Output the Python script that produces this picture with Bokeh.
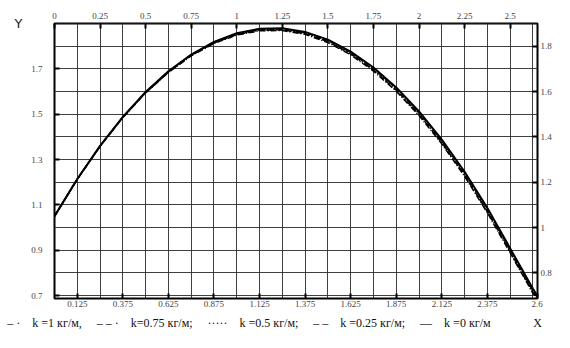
from bokeh.plotting import figure
from bokeh.models import (Range1d, LinearAxis, FixedTicker, CustomJSTickFormatter)
from bokeh.embed import file_html
from bokeh.resources import INLINE

# ---- data ----
x = [0, 0.125, 0.25, 0.375, 0.5, 0.625, 0.75, 0.875, 1.0, 1.125, 1.25, 1.375,
     1.5, 1.625, 1.75, 1.875, 2.0, 2.125, 2.25, 2.375, 2.5, 2.625, 2.648]
y_k1 = [1.05, 1.213, 1.358, 1.485, 1.594, 1.684, 1.757, 1.812, 1.849, 1.868, 1.869, 1.852,
        1.816, 1.762, 1.690, 1.601, 1.494, 1.369, 1.226, 1.065, 0.888, 0.71, 0.69]
y_k075 = [1.05, 1.213, 1.359, 1.486, 1.595, 1.685, 1.759, 1.814, 1.851, 1.870, 1.872, 1.855,
          1.820, 1.766, 1.695, 1.606, 1.499, 1.374, 1.231, 1.070, 0.893, 0.714, 0.692]
y_k05 = [1.05, 1.214, 1.359, 1.487, 1.596, 1.687, 1.760, 1.816, 1.853, 1.872, 1.874, 1.858,
         1.823, 1.769, 1.699, 1.610, 1.503, 1.379, 1.236, 1.076, 0.898, 0.718, 0.693]
y_k025 = [1.05, 1.214, 1.360, 1.487, 1.597, 1.688, 1.762, 1.817, 1.855, 1.875, 1.877, 1.860,
          1.826, 1.773, 1.702, 1.614, 1.508, 1.383, 1.241, 1.081, 0.903, 0.722, 0.694]
y_k0 = [1.05, 1.214, 1.360, 1.488, 1.598, 1.689, 1.763, 1.819, 1.857, 1.877, 1.879, 1.863,
        1.829, 1.776, 1.706, 1.618, 1.512, 1.388, 1.246, 1.086, 0.908, 0.73, 0.70]

series_marks = ["– ·", "– – ·", "·····", "– –", "––"]
series_labels = ["k =1 кг/м,", "k=0.75 кг/м;", "k =0.5 кг/м;", "k =0.25 кг/м;", "k =0 кг/м"]
top_ticks = [0, 0.25, 0.5, 0.75, 1, 1.25, 1.5, 1.75, 2, 2.25, 2.5]
bottom_ticks = [0.125, 0.375, 0.625, 0.875, 1.125, 1.375, 1.625, 1.875, 2.125, 2.375, 2.648]
left_ticks = [0.7, 0.9, 1.1, 1.3, 1.5, 1.7]
right_ticks = [0.8, 1.0, 1.2, 1.4, 1.6, 1.8]
xgrid_ticks = [i * 0.125 for i in range(22)]
ygrid_ticks = [0.7 + i * 0.1 for i in range(13)]
X_MIN, X_MAX = 0, 2.65
Y_MIN, Y_MAX = 0.687, 1.9
KEY_CENTER_X = 1.067

SERIF = "Liberation Serif"
NB = "\u00a0"

p = figure(width=554, height=332, output_backend="svg", toolbar_location=None,
           x_range=Range1d(X_MIN, X_MAX), y_range=Range1d(Y_MIN, Y_MAX),
           min_border_left=54, min_border_right=16, min_border_top=23, min_border_bottom=25)
p.outline_line_color = "black"
p.outline_line_width = 2
p.background_fill_color = "white"
p.border_fill_color = "white"

fmt = CustomJSTickFormatter(code="return tick > 2.6 ? '2.6' : String(+tick.toFixed(3));")

def style_axis(ax, standoff):
    ax.axis_line_color = None
    ax.major_tick_line_color = "black"
    ax.major_tick_line_width = 2
    ax.major_tick_in = 5
    ax.major_tick_out = 0
    ax.minor_tick_line_color = None
    ax.major_label_text_font = SERIF
    ax.major_label_text_font_size = "9px"
    ax.major_label_text_color = "#444444"
    ax.major_label_standoff = standoff
    ax.formatter = fmt

p.xaxis.ticker = FixedTicker(ticks=bottom_ticks)
p.yaxis.ticker = FixedTicker(ticks=left_ticks)
style_axis(p.xaxis[0], 2)
style_axis(p.yaxis[0], 12)

top = LinearAxis(ticker=FixedTicker(ticks=top_ticks))
style_axis(top, 5)
p.add_layout(top, "above")
right = LinearAxis(ticker=FixedTicker(ticks=right_ticks))
style_axis(right, 3)
p.add_layout(right, "right")

# axes carrying only texts: "Y" at the top left, the key line and "X" at the bottom
def text_axis(ticks, code, args, baseline, align, standoff, font, size, color):
    ax = LinearAxis(ticker=FixedTicker(ticks=ticks),
                    formatter=CustomJSTickFormatter(args=args, code=code))
    ax.axis_line_color = None
    ax.major_tick_line_color = None
    ax.minor_tick_line_color = None
    ax.major_label_text_font = font
    ax.major_label_text_font_size = size
    ax.major_label_text_color = color
    ax.major_label_text_baseline = baseline
    ax.major_label_text_align = align
    ax.major_label_standoff = standoff
    return ax

p.add_layout(text_axis([Y_MAX], "return 'Y';", {}, "bottom", "right", 0,
                       "DejaVu Sans", "13px", "#222222"), "left")

key_text = (NB * 5).join("%s%s%s" % (m, NB * 4, l) for m, l in zip(series_marks, series_labels))
p.add_layout(text_axis([KEY_CENTER_X, X_MAX], "return tick > 2.6 ? 'X' : t;",
                       dict(t=key_text), "top", "center", 0, SERIF, "12px", "#111111"),
             "below")

p.xgrid.ticker = FixedTicker(ticks=xgrid_ticks)
p.ygrid.ticker = FixedTicker(ticks=ygrid_ticks)
for g in (p.xgrid, p.ygrid):
    g.grid_line_color = "#2a2a2a"
    g.grid_line_width = 1
    g.grid_line_alpha = 0.9

p.line(x, y_k1, line_color="black", line_width=1.5, line_dash="6 2 1 2")
p.line(x, y_k075, line_color="black", line_width=1.5, line_dash="6 2 6 2 1 2")
p.line(x, y_k05, line_color="black", line_width=1.5, line_dash="1 2")
p.line(x, y_k025, line_color="black", line_width=1.5, line_dash="5 3")
p.line(x, y_k0, line_color="black", line_width=2)

open("out.html", "w").write(file_html(p, INLINE))
